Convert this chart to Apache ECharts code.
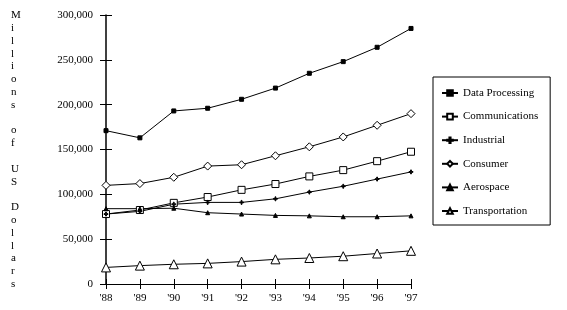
<!DOCTYPE html>
<html><head><meta charset="utf-8">
<script src="https://cdn.jsdelivr.net/npm/echarts@6/dist/echarts.min.js"></script>
<style>html,body{margin:0;padding:0;background:#fff}#c{width:567px;height:310px}</style>
</head><body><div id="c"></div>
<script>
const years = ["'88","'89","'90","'91","'92","'93","'94","'95","'96","'97"];
const dataProcessing = [171000,163000,193000,196000,206000,218500,235000,248000,264000,285000];
const communications = [78000,82500,90500,97000,105000,111500,120000,127000,137000,147500];
const industrial = [78000,81000,89000,91000,91000,95000,102500,109000,117000,125000];
const consumer = [110000,112000,119000,131500,133000,143000,153000,164000,177000,190000];
const aerospace = [84000,84000,84500,79500,78000,76500,76000,75000,75000,76000];
const transportation = [18500,20500,22000,23000,25000,27500,29000,31000,34000,37000];
const yTitle = "Millions of US Dollars";

const F = "'Liberation Serif','DejaVu Serif',serif";
const chart = echarts.init(document.getElementById('c'));
function s(name, data, symbol, size, filled){
  return {name, type:'line', data, symbol, symbolSize:size, showSymbol:true,
    lineStyle:{color:'#000',width:1}, itemStyle:{color: filled?'#000':'#fff', borderColor:'#000', borderWidth:1},
    emphasis:{disabled:true}, animation:false, xAxisIndex:0, yAxisIndex:0};
}
const plus = 'path://M4,0L6,0L6,4L10,4L10,6L6,6L6,10L4,10L4,6L0,6L0,4L4,4Z';
chart.setOption({
  backgroundColor:'#fff',
  animation:false,
  grid:{left:106,right:156,top:15,bottom:26},
  graphic:[{type:'text', left:11, top:9, style:{text:yTitle.split('').map(c=>c===' '?'':c).join('\n'), font:"11px "+F, lineHeight:12.8, fill:'#000', align:'center'}}],
  legend:{orient:'vertical', left:433, top:77, width:117, padding:[9,12,7,8], itemGap:9.6, itemWidth:16, itemHeight:7,
    borderColor:'#000', borderWidth:1, textStyle:{fontFamily:F, fontSize:11, color:'#000', lineHeight:14},
    data:['Data Processing','Communications','Industrial','Consumer','Aerospace','Transportation']},
  xAxis:[
    {type:'category', data:years, boundaryGap:false, axisLine:{lineStyle:{color:'#000',width:1}},
     axisTick:{show:true, length:5, lineStyle:{color:'#000'}}, axisLabel:{fontFamily:F, fontSize:11, color:'#000', margin:9}, splitLine:{show:false}},
    {type:'category', data:years, boundaryGap:false, position:'bottom', axisLine:{show:false},
     axisTick:{show:true, inside:true, length:5, lineStyle:{color:'#000'}}, axisLabel:{show:false}}
  ],
  yAxis:[
    {type:'value', min:0, max:300000, interval:50000, axisLine:{show:true, lineStyle:{color:'#000',width:1.5}},
     axisTick:{show:true, length:6, lineStyle:{color:'#000'}}, splitLine:{show:false},
     axisLabel:{fontFamily:F, fontSize:11, color:'#000', margin:13, formatter:v=>v.toLocaleString('en-US')}},
    {type:'value', min:0, max:300000, interval:50000, position:'left', axisLine:{show:false},
     axisTick:{show:true, inside:true, length:6, lineStyle:{color:'#000'}}, axisLabel:{show:false}, splitLine:{show:false}}
  ],
  series:[
    s('Data Processing', dataProcessing, 'rect', 4, true),
    s('Communications', communications, 'rect', 7, false),
    s('Industrial', industrial, plus, 4, true),
    s('Consumer', consumer, 'diamond', 8, false),
    s('Aerospace', aerospace, 'triangle', 4, true),
    s('Transportation', transportation, 'triangle', 9, false)
  ]
});
</script></body></html>
